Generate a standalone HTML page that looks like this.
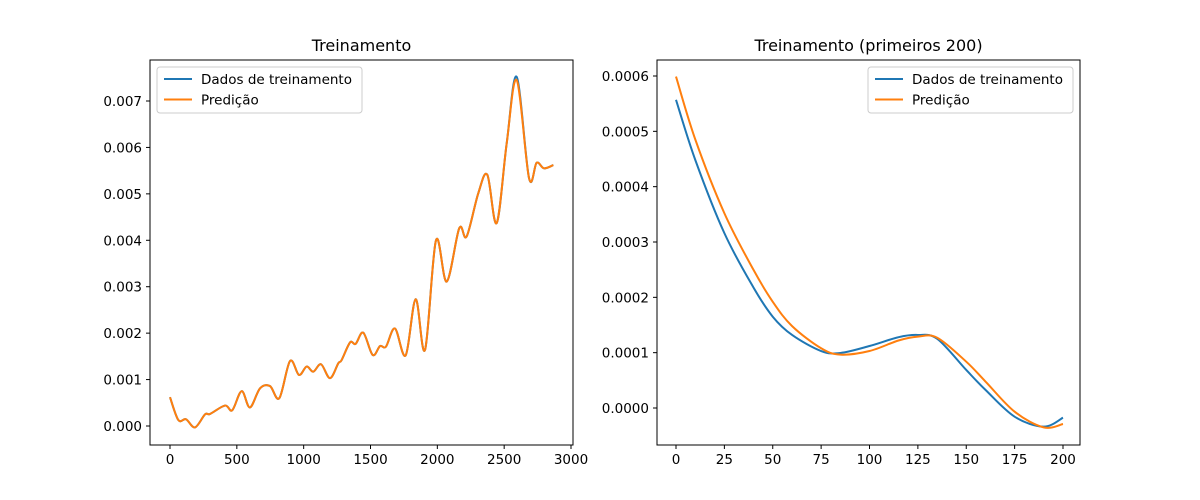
<!DOCTYPE html>
<html><head><meta charset="utf-8">
<style>
html,body{margin:0;padding:0;background:#fff;}
svg{display:block;font-family:"DejaVu Sans","Liberation Sans",sans-serif;}
</style></head>
<body>
<svg id="fig" width="1200" height="500" xmlns="http://www.w3.org/2000/svg"></svg>
<script>
// Left chart data
const leftX = [0,62,120,187,262,300,411,466,536,598,673,748,818,898,965,1022,1072,1130,1197,1259,1284,1347,1389,1446,1516,1571,1616,1683,1763,1838,1908,1990,2070,2164,2219,2306,2374,2444,2519,2594,2686,2743,2798,2868];
const leftTrain = [0.00062,0.00013,0.000145,-0.00003,0.00025,0.00026,0.00044,0.00034,0.00075,0.0004,0.00081,0.00086,0.0006,0.0014,0.0011,0.00128,0.00117,0.00133,0.00103,0.00135,0.00142,0.0018,0.00177,0.00201,0.00153,0.00172,0.00171,0.0021,0.00152,0.00273,0.00164,0.004,0.00311,0.00426,0.00408,0.00501,0.00541,0.00437,0.00609,0.00752,0.00534,0.00567,0.00555,0.00562];
const leftPred = [0.00062,0.00013,0.000145,-0.00003,0.00025,0.00026,0.00044,0.00034,0.00075,0.0004,0.00081,0.00086,0.0006,0.0014,0.0011,0.00128,0.00117,0.00133,0.00103,0.00135,0.00142,0.0018,0.00177,0.00201,0.00153,0.00172,0.00171,0.0021,0.00152,0.00273,0.00164,0.004,0.00311,0.00426,0.00408,0.00501,0.00541,0.00437,0.00609,0.00745,0.00534,0.00567,0.00555,0.00562];
const leftXTicks = [0,500,1000,1500,2000,2500,3000];
const leftYTicks = [0,0.001,0.002,0.003,0.004,0.005,0.006,0.007];
const leftYLabels = ["0.000","0.001","0.002","0.003","0.004","0.005","0.006","0.007"];
// Right chart data
const rightX = [0,10,25,40,50,60,75,85,100,115,125,135,150,160,175,190,200];
const rightTrain = [0.000557,0.000448,0.000316,0.000218,0.000165,0.000132,0.000103,0.0000995,0.000112,0.000128,0.000132,0.000125,0.0000687,0.0000325,-0.0000157,-0.0000337,-0.0000175];
const rightPred = [0.000599,0.000485,0.000352,0.00025,0.000192,0.000148,0.000108,0.0000965,0.000103,0.000122,0.000129,0.000127,0.0000837,0.0000476,-0.0000067,-0.000035,-0.000029];
const rightXTicks = [0,25,50,75,100,125,150,175,200];
const rightYTicks = [0,0.0001,0.0002,0.0003,0.0004,0.0005,0.0006];
const rightYLabels = ["0.0000","0.0001","0.0002","0.0003","0.0004","0.0005","0.0006"];

const NS="http://www.w3.org/2000/svg";
const svg=document.getElementById('fig');
function mk(tag,attrs,parent){const e=document.createElementNS(NS,tag);for(const k in attrs)e.setAttribute(k,attrs[k]);(parent||svg).appendChild(e);return e;}
function lin(d0,d1,r0,r1){return v=>r0+(v-d0)*(r1-r0)/(d1-d0);}
function smooth(pts){let d=`M${pts[0][0]},${pts[0][1]}`;for(let i=0;i<pts.length-1;i++){const p0=pts[Math.max(0,i-1)],p1=pts[i],p2=pts[i+1],p3=pts[Math.min(pts.length-1,i+2)];const c1=[p1[0]+(p2[0]-p0[0])/6,p1[1]+(p2[1]-p0[1])/6];const c2=[p2[0]-(p3[0]-p1[0])/6,p2[1]-(p3[1]-p1[1])/6];d+=` C${c1[0]},${c1[1]} ${c2[0]},${c2[1]} ${p2[0]},${p2[1]}`;}return d;}

function chart(o){
  const g=mk('g',{});
  
  
  const {L,R,T,B}=o;
  const xs=lin(o.xd[0],o.xd[1],o.xr[0],o.xr[1]);
  const ys=lin(o.yd[0],o.yd[1],o.yr[0],o.yr[1]);
  const t=mk('text',{x:(L+R)/2,y:T-9,'text-anchor':'middle','font-size':16,fill:'#000'},g);
  t.textContent=o.title;
  
  
  [[o.train,'#1f77b4','train-line'],[o.pred,'#ff7f0e','prediction-line']].forEach(([arr,c,n])=>{
    const p=mk('path',{d:smooth(o.x.map((v,i)=>[xs(v),ys(arr[i])])),fill:'none',stroke:c,'stroke-width':2,'stroke-linejoin':'round'},g);
    
    
  });
  const fr=mk('rect',{x:L,y:T,width:R-L,height:B-T,fill:'none',stroke:'#000','stroke-width':1},g);
  
  
  o.xt.forEach(v=>{const x=xs(v);mk('line',{x1:x,x2:x,y1:B,y2:B+4,stroke:'#000'},g);
    const tx=mk('text',{x:x,y:B+19,'text-anchor':'middle','font-size':13.5,fill:'#000'},g);tx.textContent=String(v);
    
    });
  o.yt.forEach((v,i)=>{const y=ys(v);mk('line',{x1:L-4,x2:L,y1:y,y2:y,stroke:'#000'},g);
    const ty=mk('text',{x:L-8,y:y+5,'text-anchor':'end','font-size':13.5,fill:'#000'},g);ty.textContent=o.yl[i];
    
    });
  const lg=mk('g',{},g);
  
  
  mk('rect',{x:o.lx,y:T+7,width:205,height:46,rx:3,fill:'#fff',stroke:'#ccc'},lg);
  [['Dados de treinamento','#1f77b4'],['Predição','#ff7f0e']].forEach(([s,c],i)=>{
    const yy=T+19+i*20.5;
    mk('line',{x1:o.lx+7,x2:o.lx+35,y1:yy,y2:yy,stroke:c,'stroke-width':2},lg);
    const te=mk('text',{x:o.lx+44,y:yy+5,'font-size':13.5,fill:'#000'},lg);te.textContent=s;
    
    
  });
}
chart({name:'left-chart',title:'Treinamento',L:150,R:573,T:60,B:445,xd:[0,3000],xr:[170,571],yd:[0,0.007],yr:[426,101],
  x:leftX,train:leftTrain,pred:leftPred,xt:leftXTicks,yt:leftYTicks,yl:leftYLabels,lx:157});
chart({name:'right-chart',title:'Treinamento (primeiros 200)',L:657,R:1080,T:60,B:445,xd:[0,200],xr:[676,1063],yd:[0,0.0006],yr:[408,76],
  x:rightX,train:rightTrain,pred:rightPred,xt:rightXTicks,yt:rightYTicks,yl:rightYLabels,lx:868});
</script>
</body></html>
